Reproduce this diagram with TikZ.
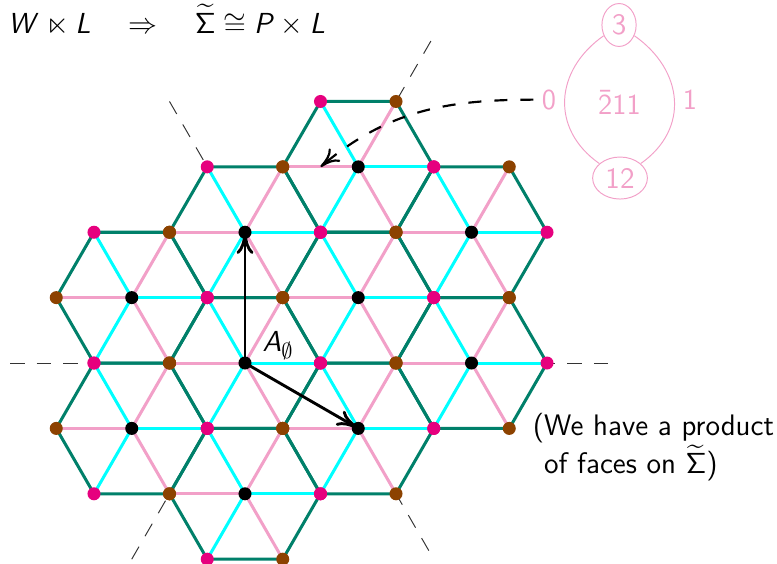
\documentclass[tikz,border=0pt]{standalone}
\usepackage{amssymb}
\DeclareMathVersion{sans}
\SetSymbolFont{operators}{sans}{OT1}{cmss}{m}{n}
\SetSymbolFont{letters}{sans}{OT1}{cmss}{m}{sl}
\SetSymbolFont{symbols}{sans}{OMS}{cmsy}{m}{n}
\SetSymbolFont{largesymbols}{sans}{OMX}{cmex}{m}{n}
\usetikzlibrary{calc,shapes.geometric,arrows.meta}
\definecolor{verdehex}{RGB}{0,128,106}
\definecolor{cian}{RGB}{0,255,255}
\definecolor{rosa}{RGB}{242,160,200}
\definecolor{magenta}{RGB}{230,0,126}
\definecolor{marron}{RGB}{140,66,0}
\begin{document}
\begin{tikzpicture}[x=1.1cm, y=1.1cm,
        every node/.style={font=\fontsize{12.3}{14.8}\selectfont\sffamily\mathversion{sans}},
        lado/.style={draw=verdehex, line width=1.25pt, line join=round},
        radiocian/.style={draw=cian, line width=1.25pt},
        radiorosa/.style={draw=rosa, line width=1.25pt},
        punto/.style={circle, inner sep=0pt, minimum size=5.4pt},
        muro/.style={black!80, line width=0.4pt, dash pattern=on 6pt off 5pt},
        vector/.style={-{To[length=9pt,width=7pt]}, line width=1.2pt},
        flechadash/.style={-{To[length=8pt,width=7pt]}, line width=0.9pt, dash pattern=on 5.4pt off 5.4pt},
        cara/.style={draw=rosa, ellipse, text=rosa, inner sep=2pt, line width=0.4pt}]
    \useasboundingbox (-3.245,-2.649) rectangle (7.046,4.808);
    \foreach \n/\cx/\cy in {A/0/0, B/3/0, C/-1.5/1, D/1.5/1, E/0/2, F/3/2, G/1.5/3, H/-1.5/-1, I/1.5/-1, J/0/-2} {
        \coordinate (\n) at (\cx,{0.866*\cy});
        \foreach \k in {0,...,5}
            \coordinate (\n\k) at ($(\n)+(60*\k:1)$);
    }
    \coordinate (m1) at (-3.11,0);
    \coordinate (m2) at (4.9,0);
    \coordinate (m3) at ($(A)!-3!(A1)$);
    \coordinate (m4) at ($(A)!5!(A1)$);
    \coordinate (m5) at ($(E)!-2!(E5)$);
    \coordinate (m6) at ($(E)!5!(E5)$);
    \draw[muro] (m1) -- (m2);
    \draw[muro] (m3) -- (m4);
    \draw[muro] (m5) -- (m6);
    \foreach \n in {A,...,J} {
        \foreach \k in {0,2,4} \draw[radiocian] (\n) -- (\n\k);
        \foreach \k in {1,3,5} \draw[radiorosa] (\n) -- (\n\k);
    }
    \foreach \n in {A,...,J}
        \draw[lado] (\n0) -- (\n1) -- (\n2) -- (\n3) -- (\n4) -- (\n5) -- cycle;
    \foreach \n in {A,...,J} {
        \node[punto, fill=black] (p\n) at (\n) {};
        \foreach \k in {0,2,4} \node[punto, fill=magenta] (p\n\k) at (\n\k) {};
        \foreach \k in {1,3,5} \node[punto, fill=marron] (p\n\k) at (\n\k) {};
    }
    \draw[vector] (A) -- (E);
    \draw[vector] (A) -- (I);
    \node[anchor=base west] (etiq) at ($(A)+(0.12,0.146)$) {$A_\emptyset$};
    \node[anchor=base west] (titulo) at (-3.25,4.37) {$W\ltimes L\quad\Rightarrow\quad\widetilde{\Sigma}\cong P\times L$};
    \node[anchor=north west, align=left] (nota) at (3.70,-0.55) {(We have a product\\\phantom{(}of faces on $\widetilde{\Sigma}$)};
    \node[cara] (tres) at (4.954,4.477) {3};
    \node[cara] (doce) at (4.967,2.450) {12};
    \node[text=rosa] (raiz) at (4.96,3.444) {$\bar{2}11$};
    \draw[rosa, line width=0.4pt] (tres) to[out=215, in=145, looseness=1.2] node[left] (cero) {$0$} (doce);
    \draw[rosa, line width=0.4pt] (tres) to[out=-35, in=35, looseness=1.2] node[right] (uno) {$1$} (doce);
    \coordinate (medio) at ($(G3)!0.5!(G)$);
    \draw[flechadash] (cero) to[out=180, in=40] (medio);
\end{tikzpicture}
\end{document}
